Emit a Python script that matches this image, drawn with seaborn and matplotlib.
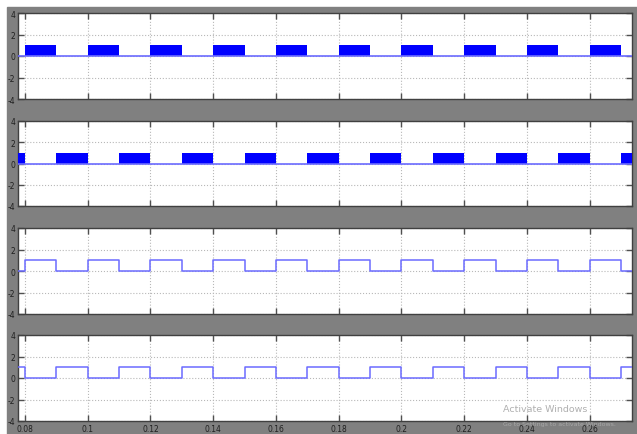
import numpy as np
import pandas as pd
import matplotlib
matplotlib.use('Agg')
import matplotlib.pyplot as plt
import seaborn as sns

# switching instants (s) and gate levels
t_start = 0.0778
t_end = 0.2735
switch_times = [0.08, 0.09, 0.10, 0.11, 0.12, 0.13, 0.14, 0.15, 0.16, 0.17,
                0.18, 0.19, 0.20, 0.21, 0.22, 0.23, 0.24, 0.25, 0.26, 0.27]
level_a = [1, 0, 1, 0, 1, 0, 1, 0, 1, 0, 1, 0, 1, 0, 1, 0, 1, 0, 1, 0]
level_b = [0, 1, 0, 1, 0, 1, 0, 1, 0, 1, 0, 1, 0, 1, 0, 1, 0, 1, 0, 1]
start_a = 0
start_b = 1

xticks = [0.08, 0.10, 0.12, 0.14, 0.16, 0.18, 0.20, 0.22, 0.24, 0.26]
xticklabels = ['0.08', '0.1', '0.12', '0.14', '0.16', '0.18', '0.2', '0.22', '0.24', '0.26']
yticks = [-4, -2, 0, 2, 4]
yticklabels = ['-4', '-2', '0', '2', '4']


def trace(start, levels):
    t = [t_start] + switch_times + [t_end]
    v = [start] + levels + [levels[-1]]
    return pd.DataFrame({'time': t, 'gate': v})


sns.set_style('white')
plt.rcParams['font.family'] = ['Liberation Sans Narrow', 'DejaVu Sans']

fig = plt.figure(figsize=(6.37, 4.35), dpi=100)
fig.patch.set_facecolor('white')
bg = plt.Rectangle((7 / 637, 0), 1, (435 - 8) / 435, transform=fig.transFigure,
                   color='#808080', zorder=-10)
fig.patches.append(bg)

boxes = [(14, 100), (122, 207), (229, 315), (336, 422)]
traces = [trace(start_a, level_a), trace(start_b, level_b),
          trace(start_a, level_a), trace(start_b, level_b)]
filled = [True, True, False, False]

for i, ((top, bot), df, fill) in enumerate(zip(boxes, traces, filled)):
    ax = fig.add_axes([18 / 637, (435 - bot) / 435, 614 / 637, (bot - top) / 435])
    ax.set_facecolor('white')
    if fill:
        ax.fill_between(df['time'], 0, df['gate'], step='post', color='#0000ff',
                        linewidth=0, zorder=3)
        ax.axhline(0, color='#6b6bff', lw=1.2, zorder=4)
    else:
        sns.lineplot(data=df, x='time', y='gate', ax=ax, drawstyle='steps-post',
                     color='#6b6bff', lw=1.1, zorder=4, estimator=None)
    ax.set_xlim(t_start, t_end)
    ax.set_ylim(-4, 4)
    ax.set_xticks(xticks)
    ax.set_yticks(yticks)
    ax.set_yticklabels(yticklabels, fontsize=5.5, color='#202020')
    if i == 3:
        ax.set_xticklabels(xticklabels, fontsize=5.5, color='#202020')
    else:
        ax.set_xticklabels([])
    ax.set_xlabel('')
    ax.set_ylabel('')
    ax.grid(True, linestyle=':', color='#b8b8b8', lw=0.8)
    ax.tick_params(direction='in', length=4, width=1, color='#505050',
                   top=True, right=True, bottom=True, left=True, pad=2)
    for s in ax.spines.values():
        s.set_color('#404040')
        s.set_linewidth(1)

fig.text(503 / 637, 1 - 410 / 435, 'Activate Windows', fontsize=6.8, color='#b0b0b0',
         va='center', family=['Liberation Sans Narrow', 'DejaVu Sans'])
fig.text(503 / 637, 1 - 425 / 435, 'Go to Settings to activate Windows.', fontsize=4.5,
         color='#a8a8a8', va='center', family=['Liberation Sans Narrow', 'DejaVu Sans'])

fig.savefig('out.png', dpi=100, facecolor=fig.get_facecolor())
